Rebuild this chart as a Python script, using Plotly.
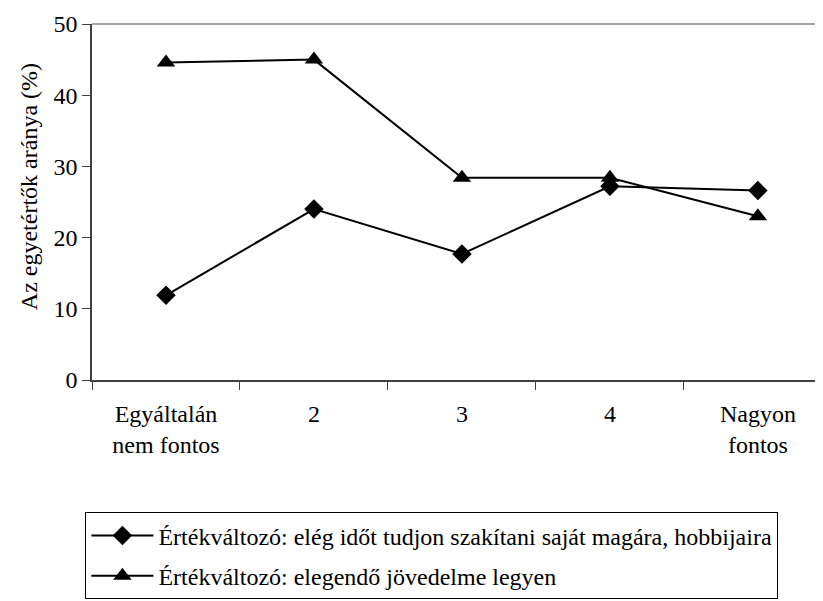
import plotly.graph_objects as go

categories = ["Egyáltalán<br>nem fontos", "2", "3", "4", "Nagyon<br>fontos"]
series_hobby = [11.9, 24.0, 17.7, 27.2, 26.6]
series_income = [44.6, 45.0, 28.4, 28.4, 23.0]
name_hobby = "Értékváltozó: elég időt tudjon szakítani saját magára, hobbijaira"
name_income = "Értékváltozó: elegendő jövedelme legyen"
y_title = "Az egyetértők aránya (%)"
y_ticks = [0, 10, 20, 30, 40, 50]

FONT = "Liberation Serif"
FS = 24

fig = go.Figure()
fig.add_trace(go.Scatter(
    x=categories, y=series_hobby, name=name_hobby, mode="lines+markers",
    legendgroup="a",
    line=dict(color="black", width=2),
    marker=dict(symbol="diamond", size=15, color="black"),
))
fig.add_trace(go.Scatter(
    x=categories, y=series_income, name=name_income, mode="lines+markers",
    legendgroup="b",
    line=dict(color="black", width=2),
    marker=dict(symbol="triangle-up", size=16, color="black"),
))

fig.update_layout(
    width=815, height=593,
    margin=dict(l=84, r=0, t=16, b=221, autoexpand=False),
    paper_bgcolor="white", plot_bgcolor="white",
    font=dict(family=FONT, size=FS, color="black"),
    showlegend=True,
    legend=dict(
        x=-0.009, y=-0.372, xanchor="left", yanchor="top",
        bordercolor="black", borderwidth=1, bgcolor="white",
        font=dict(family=FONT, size=FS, color="black"),
        itemwidth=62, tracegroupgap=6,
    ),
    xaxis=dict(
        type="category", range=[-0.5, 4.44], automargin=False,
        showline=True, linecolor="#404040", linewidth=1.5,
        ticks="outside", ticklen=8, tickcolor="#404040", tickson="boundaries",
        ticklabelstandoff=11,
        showgrid=False, zeroline=False,
        tickfont=dict(family=FONT, size=FS, color="black"),
    ),
    yaxis=dict(
        range=[0, 50], tickvals=y_ticks, automargin=False,
        showline=True, linecolor="#404040", linewidth=1.5,
        ticks="outside", ticklen=8, tickcolor="#404040",
        showgrid=False, zeroline=False,
        tickfont=dict(family=FONT, size=FS, color="black"),
    ),
    annotations=[dict(
        text=y_title, textangle=-90, showarrow=False,
        xref="paper", yref="paper", x=-0.086, y=0.542,
        xanchor="center", yanchor="middle",
        font=dict(family=FONT, size=FS, color="black"),
    )],
    shapes=[dict(type="line", xref="paper", yref="paper", x0=0, x1=1, y0=1, y1=1,
                 line=dict(color="#888888", width=1.5))],
)

fig.write_html("out.html")
